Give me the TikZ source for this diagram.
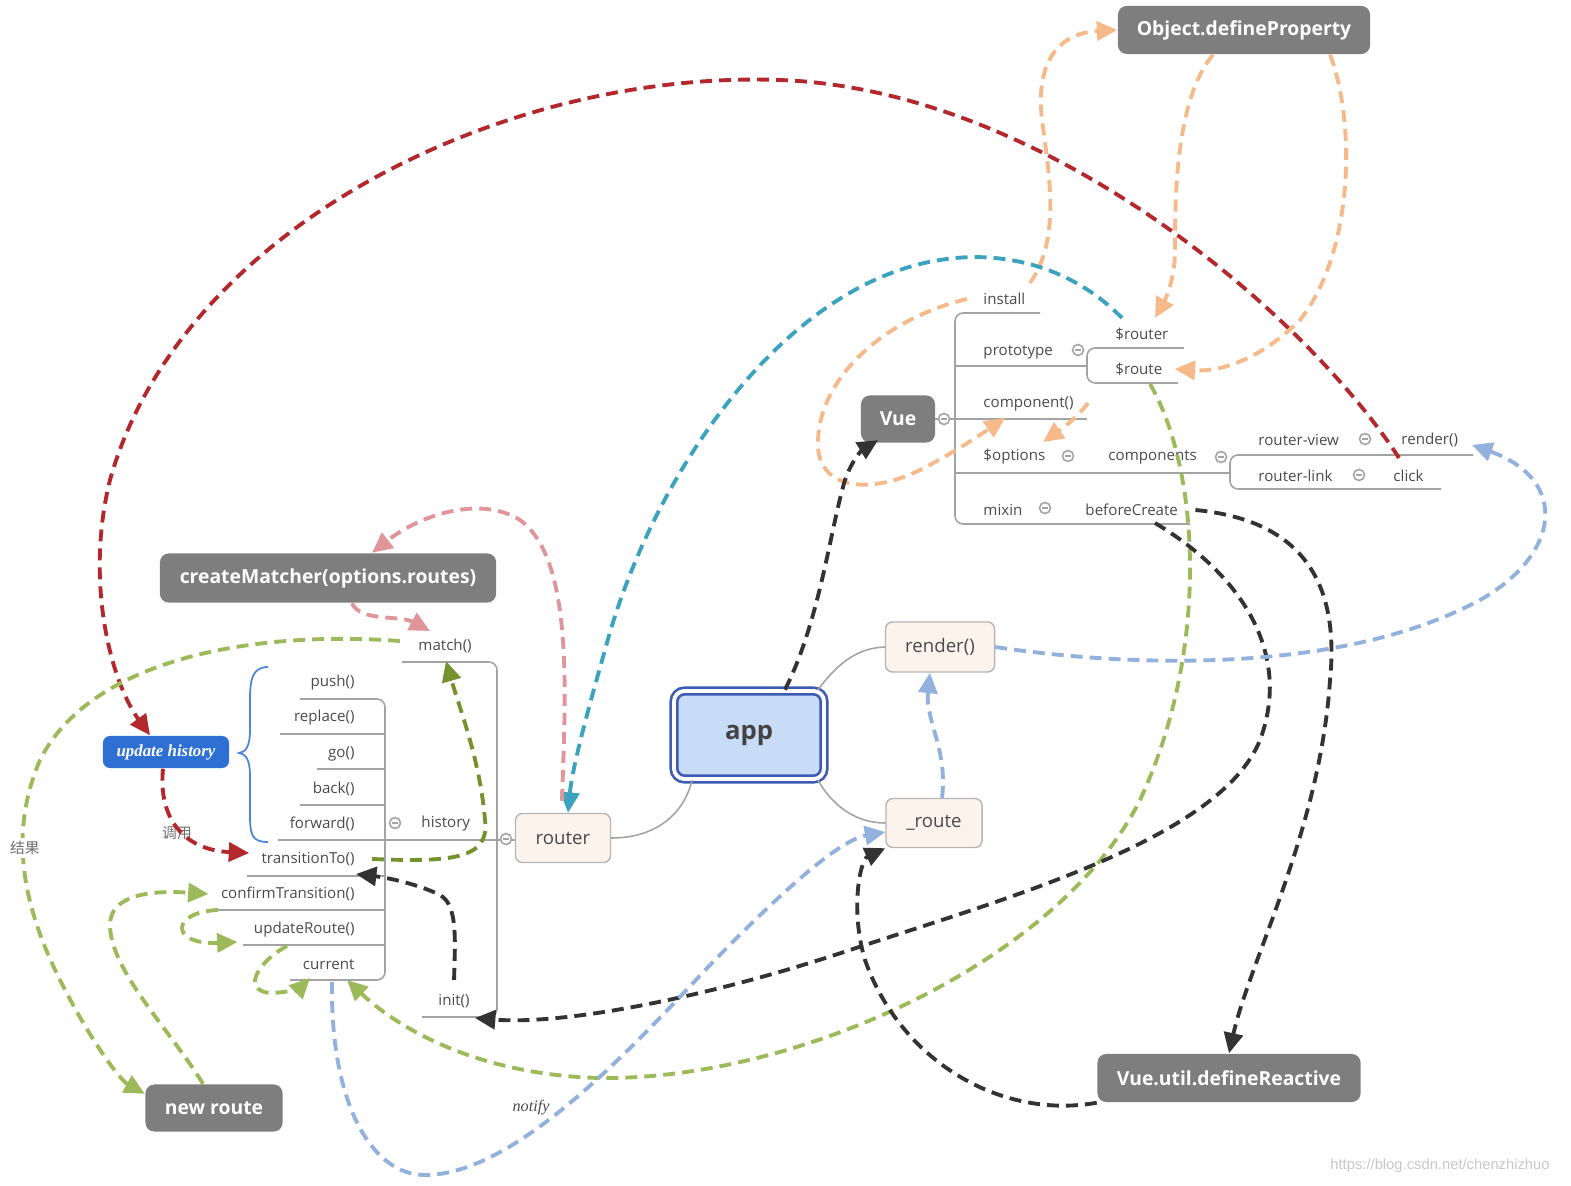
\documentclass[tikz,border=0pt]{standalone}
\usepackage{fontspec}
\setmainfont{Open Sans}
\newfontfamily\cjkfont{Noto Sans CJK SC}
\newfontfamily\seriffont{Liberation Serif}
\newfontfamily\wmfont{Liberation Sans}
\usetikzlibrary{arrows.meta}
\definecolor{boxgray}{HTML}{7E7E7E}
\definecolor{treegray}{HTML}{A3A3A3}
\definecolor{txt}{HTML}{4A4A4A}
\definecolor{dred}{HTML}{B3282D}
\definecolor{orng}{HTML}{F6B98A}
\definecolor{tealc}{HTML}{3BA3BF}
\definecolor{lgreen}{HTML}{9DBA5A}
\definecolor{dgreen}{HTML}{76922F}
\definecolor{dblack}{HTML}{333333}
\definecolor{lblue}{HTML}{92B1DC}
\definecolor{pinkc}{HTML}{E0959B}
\definecolor{uhblue}{HTML}{2D6FD2}
\definecolor{appblue}{HTML}{3B5BB5}
\definecolor{appfill}{HTML}{C8DCF7}
\definecolor{peach}{HTML}{FCF3EC}
\newcommand\mcirc[1]{\draw[tree,fill=white] (#1) circle[radius=0.55mm]; \draw[tree] (#1) ++(-0.3mm,0) -- ++(0.6mm,0);}
\tikzset{
  flow/.style={line width=1.1pt, dash pattern=on 3.4pt off 2pt, -{Triangle[length=5.8pt,width=5.4pt]}},
  tree/.style={draw=treegray, line width=0.45pt},
  darkbox/.style={fill=boxgray, rounded corners=2.5pt, text=white, font=\fontsize{5.5}{6.5}\selectfont\bfseries, inner sep=0pt},
  lightbox/.style={fill=peach, draw=treegray!80, line width=0.4pt, rounded corners=2pt, text=txt, font=\fontsize{5.3}{6}\selectfont, inner sep=0pt},
  lbl/.style={text=txt, font=\fontsize{4.3}{5}\selectfont, inner sep=0.5pt},
}
\begin{document}
\begin{tikzpicture}[x=0.01cm,y=-0.01cm]
\useasboundingbox (0,0) rectangle (1571,1186);

% ---------- Vue tree ----------
\draw[tree, rounded corners=0.8mm] (1040,313) -- (955,313) -- (955,524) -- (1190,524);
\draw[tree] (955,366) -- (1087,366);
\draw[tree, rounded corners=0.8mm] (1184,348) -- (1087,348) -- (1087,383) -- (1178,383);
\draw[tree] (935,419) -- (1087,419);
\draw[tree] (955,473) -- (1230,473);
\draw[tree, rounded corners=0.8mm] (1473,455) -- (1230,455) -- (1230,489) -- (1441,489);

% ---------- router tree ----------
\draw[tree, rounded corners=0.8mm] (402,662) -- (497,662) -- (497,1017) -- (422,1017);
\draw[tree] (278,840) -- (516,840);
\draw[tree, rounded corners=0.8mm] (300,699) -- (385,699) -- (385,980) -- (290,980);
\draw[tree] (280,734) -- (385,734);
\draw[tree] (317,769) -- (385,769);
\draw[tree] (300,805) -- (385,805);
\draw[tree] (247,876) -- (385,876);
\draw[tree] (215,910) -- (385,910);
\draw[tree] (243,945) -- (385,945);

% brace
\draw[uhblue!85, line width=0.5pt] (268,667) .. controls (252,667) and (250,680) .. (250,700) -- (250,730) .. controls (250,748) and (245,752) .. (239,753) .. controls (245,754) and (250,758) .. (250,776) -- (250,815) .. controls (250,835) and (252,842) .. (268,842);

% ---------- boxes ----------
\node[darkbox, minimum width=2.52cm, minimum height=0.48cm] (objdef) at (1244,30) {Object.defineProperty};
\node[darkbox, minimum width=0.74cm, minimum height=0.47cm] (vue) at (898,419) {Vue};
\node[darkbox, minimum width=3.36cm, minimum height=0.49cm] (cm) at (328,578) {createMatcher(options.routes)};
\node[darkbox, minimum width=1.37cm, minimum height=0.47cm] (nr) at (214,1108) {new route};
\node[darkbox, minimum width=2.63cm, minimum height=0.48cm] (dr) at (1229,1078) {Vue.util.defineReactive};
\node[fill=uhblue, rounded corners=2pt, text=white, minimum width=1.26cm, minimum height=0.32cm, inner sep=0pt, font=\seriffont\fontsize{4.8}{5.5}\selectfont\bfseries\itshape] (uh) at (166,752) {update history};
\node[draw=appblue, line width=0.75pt, double=white, double distance=1.1pt, fill=appfill, rounded corners=3pt, minimum width=1.50cm, minimum height=0.88cm, inner sep=0pt, text=txt!90!black, font=\fontsize{7.3}{8}\selectfont\bfseries] (app) at (749,735) {app};
\node[lightbox, minimum width=1.09cm, minimum height=0.50cm] (rrender) at (940,647) {render()};
\node[lightbox, minimum width=0.96cm, minimum height=0.49cm] (rroute) at (934,823) {\_route};
\node[lightbox, minimum width=0.95cm, minimum height=0.49cm] (router) at (563,838) {router};

% app connectors
\draw[tree] (router.east) .. controls (660,838) and (685,810) .. ([xshift=-5.7mm]app.south);
\draw[tree] ([xshift=6.9mm]app.north) .. controls (840,660) and (860,648) .. (rrender.west);
\draw[tree] ([xshift=6.9mm]app.south) .. controls (835,810) and (860,823) .. (rroute.west);

% ---------- labels ----------
\node[lbl, anchor=west] (install) at (981,299) {install};
\node[lbl, anchor=west] (prototype) at (981,352) {prototype};
\node[lbl, anchor=west] (component) at (981,404) {component()};
\node[lbl, anchor=west] (options) at (981,457) {\$options};
\node[lbl, anchor=west] (mixin) at (981,510) {mixin};
\node[lbl, anchor=west] (srouter) at (1113,334) {\$router};
\node[lbl, anchor=west] (sroute) at (1113,369) {\$route};
\node[lbl, anchor=west] (components) at (1106,457) {components};
\node[lbl, anchor=west] (bc) at (1083,510) {beforeCreate};
\node[lbl, anchor=west] (rview) at (1256,440) {router-view};
\node[lbl, anchor=west] (rlink) at (1256,476) {router-link};
\node[lbl, anchor=west] (vrender) at (1399,440) {render()};
\node[lbl, anchor=west] (click) at (1391,476) {click};

\node[lbl, anchor=west] (match) at (416,646) {match()};
\node[lbl, anchor=west] (history) at (419,824) {history};
\node[lbl, anchor=west] (init) at (436,1001) {init()};
\node[lbl, anchor=east] (push) at (357,683) {push()};
\node[lbl, anchor=east] (replace) at (357,718) {replace()};
\node[lbl, anchor=east] (go) at (357,754) {go()};
\node[lbl, anchor=east] (back) at (357,789) {back()};
\node[lbl, anchor=east] (forward) at (357,824) {forward()};
\node[lbl, anchor=east] (tTo) at (357,859) {transitionTo()};
\node[lbl, anchor=east] (ctr) at (357,894) {confirmTransition()};
\node[lbl, anchor=east] (uR) at (357,930) {updateRoute()};
\node[lbl, anchor=east] (current) at (357,965) {current};

\node[text=txt!80, font=\cjkfont\fontsize{4.2}{5}\selectfont, inner sep=0.5pt] (diaoyong) at (177,833) {调用};
\node[text=txt, font=\seriffont\fontsize{4.6}{5.5}\selectfont\itshape, inner sep=0.5pt] (notify) at (531,1108) {notify};
\node[text=black!22, font=\wmfont\fontsize{4.2}{5}\selectfont, inner sep=0pt] (wm) at (1440,1166) {https://blog.csdn.net/chenzhizhuo};

% minus circles
\mcirc{944,419}
\mcirc{1078,350}
\mcirc{1068,456}
\mcirc{1221,457}
\mcirc{1365,439}
\mcirc{1359,475}
\mcirc{1045,508}
\mcirc{395,823}
\mcirc{506,839}

% ---------- named free ends ----------
\coordinate (redstart) at (1399,458);
\coordinate (compA) at (1005,418);
\coordinate (compB) at (1088,403);
\coordinate (optA) at (1043,442);
\coordinate (installup) at (1030,283);
\coordinate (sroutertop) at (1155,318);
\coordinate (tealstart) at (1122,318);
\coordinate (matchA) at (430,631);
\coordinate (matchB) at (446,661);
\coordinate (ctrloop) at (218,910);
\coordinate (uRloop) at (287,946);
\coordinate (curA) at (310,978);
\coordinate (curB) at (347,980);
\coordinate (curC) at (332,982);
\coordinate (sroutebot) at (1150,384);
\coordinate (bcbot) at (1155,523);
\coordinate (initA) at (475,1018);
\coordinate (tToB) at (356,874);
\coordinate (vrenderA) at (1472,445);

% ---------- dashed flows ----------
% red
\draw[flow, dred] (redstart) .. controls (1310,320) and (1050,90) .. (780,80) .. controls (500,70) and (180,230) .. (110,480) .. controls (85,580) and (110,680) .. ([xshift=-1.6mm]uh.north);
\draw[flow, dred] ([xshift=-0.3mm]uh.south) .. controls (158,820) and (185,850) .. ([xshift=-1mm,yshift=0.6mm]tTo.west);
% orange
\draw[flow, orng] ([xshift=-1.4mm]install.west) .. controls (880,320) and (820,380) .. (818,440) .. controls (815,490) and (870,495) .. (920,470) .. controls (950,455) and (980,435) .. (compA);
\draw[flow, orng] (compB) .. controls (1075,420) and (1060,430) .. (optA);
\draw[flow, orng] (installup) .. controls (1060,240) and (1050,180) .. (1042,120) .. controls (1035,60) and (1060,33) .. (objdef.west);
\draw[flow, orng] ([xshift=-3.1mm]objdef.south) .. controls (1175,100) and (1175,200) .. (1175,250) .. controls (1175,280) and (1165,300) .. (sroutertop);
\draw[flow, orng] ([xshift=8.6mm]objdef.south) .. controls (1355,120) and (1355,250) .. (1300,320) .. controls (1260,360) and (1220,372) .. ([xshift=1mm]sroute.east);
% teal
\draw[flow, tealc] (tealstart) .. controls (1070,265) and (1000,250) .. (940,260) .. controls (780,285) and (650,480) .. (605,650) .. controls (585,720) and (572,770) .. ([xshift=0.5mm]router.north);
% pink
\draw[flow, pinkc] ([xshift=-0.1mm,yshift=1.2mm]router.north) .. controls (565,700) and (575,560) .. (520,520) .. controls (480,495) and (420,515) .. ([xshift=4.4mm]cm.north);
\draw[flow, pinkc] ([xshift=2.4mm]cm.south) .. controls (360,622) and (400,615) .. (matchA);
% greens
\draw[flow, dgreen] ([xshift=1.5mm]tTo.east) .. controls (450,862) and (490,860) .. (485,820) .. controls (480,760) and (460,710) .. (matchB);
\draw[flow, lgreen] ([xshift=-1.6mm,yshift=0.5mm]match.west) .. controls (250,630) and (90,660) .. (40,760) .. controls (10,830) and (20,900) .. (60,980) .. controls (90,1040) and (120,1080) .. ([yshift=-1mm]nr.north west);
\draw[flow, lgreen] ([xshift=-1.1mm]nr.north) .. controls (170,1030) and (110,970) .. (110,925) .. controls (110,895) and (150,890) .. ([xshift=-1mm]ctr.west);
\draw[flow, lgreen] (ctrloop) .. controls (170,912) and (170,945) .. ([xshift=-1.4mm,yshift=-1.2mm]uR.west);
\draw[flow, lgreen] (uRloop) .. controls (260,960) and (240,990) .. (270,993) .. controls (285,993) and (300,988) .. (curA);
\draw[flow, lgreen] (sroutebot) .. controls (1200,470) and (1210,650) .. (1140,800) .. controls (1060,960) and (800,1080) .. (600,1078) .. controls (480,1075) and (400,1030) .. (curB);
% blacks
\draw[flow, dblack] ([xshift=3.6mm]app.north) .. controls (820,620) and (830,530) .. (845,480) .. controls (852,460) and (862,450) .. ([xshift=-2mm,yshift=0.3mm]vue.south);
\draw[flow, dblack] (bcbot) .. controls (1250,580) and (1290,660) .. (1260,740) .. controls (1220,840) and (1000,900) .. (850,950) .. controls (700,1000) and (560,1025) .. (initA);
\draw[flow, dblack] ([xshift=1.5mm]bc.east) .. controls (1300,520) and (1340,580) .. (1330,680) .. controls (1320,830) and (1250,960) .. (dr.north);
\draw[flow, dblack] (dr.south west) .. controls (1000,1120) and (900,1060) .. (865,960) .. controls (850,910) and (860,860) .. (rroute.south west);
\draw[flow, dblack] ([yshift=1.2mm]init.north) .. controls (455,940) and (458,905) .. (440,895) .. controls (420,885) and (390,878) .. (tToB);
% light blues
\draw[flow, lblue] (rrender.east) .. controls (1150,670) and (1350,670) .. (1480,600) .. controls (1560,555) and (1570,480) .. (vrenderA);
\draw[flow, lblue] ([xshift=0.8mm]rroute.north) .. controls (948,750) and (925,720) .. ([xshift=-1mm]rrender.south);
\draw[flow, lblue] (curC) .. controls (330,1100) and (370,1175) .. (425,1175) .. controls (515,1175) and (630,1050) .. (710,965) .. controls (785,888) and (840,840) .. ([yshift=-0.9mm]rroute.west);

\node[fill=white, text=txt!80, font=\cjkfont\fontsize{4.2}{5}\selectfont, inner sep=0.8pt] (jieguo) at (25,848) {结果};
\end{tikzpicture}
\end{document}
